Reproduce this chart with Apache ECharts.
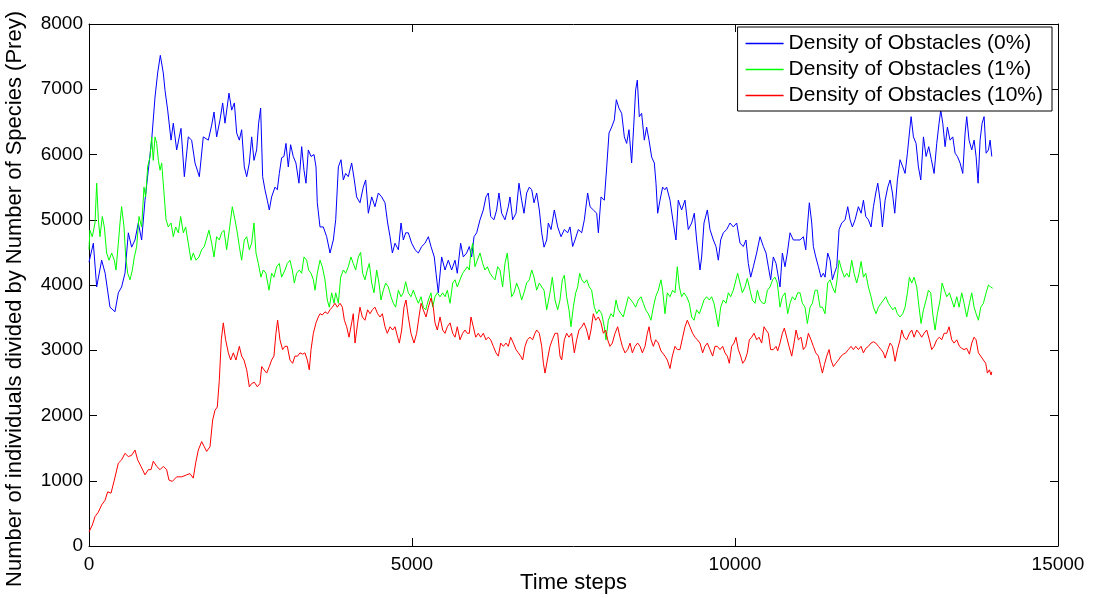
<!DOCTYPE html>
<html lang="en">
<head>
    <meta charset="UTF-8">
    <title>Prey density</title>
    <style>
        html, body { margin: 0; padding: 0; background: #fff; }
        #myChart { width: 1095px; height: 598px; }
    </style>
</head>
<body>
    <div id="myChart"></div>
</body>
<script src="https://cdn.jsdelivr.net/npm/echarts@6/dist/echarts.min.js"></script>
<script>
    let seriesNames = ['Density of Obstacles (0%)', 'Density of Obstacles (1%)', 'Density of Obstacles (10%)'];
    let xTicks = [0, 5000, 10000, 15000];
    let yTicks = [0, 1000, 2000, 3000, 4000, 5000, 6000, 7000, 8000];

    // density 0% (blue)
    let blueSteps = [0,67,119,196,250,325,402,454,505,557,609,660,712,763,815,867,918,970,1022,1063,1104,1150,1177,1218,1270,1305,1357,1424,1476,1537,1589,1641,1708,1769,1847,1899,1935,1976,2028,2069,2105,2167,2209,2250,2286,2327,2363,2404,2441,2482,2518,2554,2595,2626,2657,2688,2724,2760,2791,2827,2879,2915,2946,2982,3018,3049,3085,3121,3162,3203,3250,3292,3328,3359,3395,3437,3483,3514,3534,3576,3627,3679,3731,3782,3819,3860,3901,3937,3973,4014,4066,4107,4143,4195,4246,4283,4324,4376,4427,4479,4531,4582,4623,4660,4696,4737,4789,4830,4866,4902,4943,4995,5047,5098,5150,5201,5253,5294,5345,5372,5407,5459,5511,5562,5614,5666,5701,5753,5794,5846,5887,5923,5960,6001,6053,6104,6145,6181,6218,6269,6310,6346,6388,6439,6491,6517,6558,6610,6656,6697,6734,6775,6816,6853,6889,6930,6971,7008,7044,7085,7110,7152,7203,7255,7307,7358,7410,7446,7487,7523,7575,7627,7668,7719,7756,7807,7859,7885,7926,7977,8014,8050,8091,8132,8163,8204,8246,8287,8323,8359,8400,8431,8462,8488,8519,8555,8596,8632,8669,8710,8751,8777,8803,8839,8880,8916,8942,8994,9045,9086,9122,9174,9226,9277,9329,9370,9406,9458,9484,9520,9572,9613,9665,9706,9742,9778,9819,9871,9923,9974,10026,10078,10129,10170,10206,10243,10284,10335,10387,10439,10480,10516,10552,10593,10635,10661,10697,10733,10774,10810,10852,10903,10955,11007,11058,11095,11120,11151,11188,11213,11250,11291,11332,11368,11394,11435,11472,11508,11539,11575,11611,11652,11704,11745,11781,11817,11859,11910,11952,11988,12024,12065,12106,12143,12179,12210,12246,12282,12324,12365,12401,12437,12473,12514,12555,12597,12633,12669,12700,12726,12762,12803,12839,12876,12917,12958,12999,13040,13082,13123,13159,13185,13216,13252,13288,13329,13371,13407,13443,13484,13526,13562,13587,13623,13665,13701,13732,13763,13794,13825,13856,13887,13923,13949,13975];
    let blueVals = [4350,4640,3970,4380,4180,3660,3590,3880,3970,4180,4800,4580,4690,4950,4690,5300,5760,6220,6880,7250,7520,7250,6980,6680,6220,6480,6070,6400,5660,6270,6220,5870,5660,6270,6220,6450,6650,6270,6530,6790,6480,6940,6680,6790,6330,6220,6380,5810,5660,5870,6270,5910,6070,6480,6710,5660,5460,5300,5150,5350,5500,5460,5710,5950,5970,6170,5810,6150,5970,5870,5560,6120,5760,5560,6070,5970,6000,5810,5260,4890,4890,4740,4490,4690,5000,5810,5920,5610,5710,5660,5870,5610,5350,5260,5500,5610,5100,5350,5200,5410,5350,5260,4950,4740,4490,4640,4540,4950,4690,4800,4800,4640,4540,4490,4590,4640,4740,4590,4430,4180,3880,4430,4230,4380,4230,4380,4180,4640,4430,4490,4590,4430,4740,4800,5000,5150,5350,5410,5050,5000,5150,5410,5100,5000,5200,5350,5000,5100,5560,5300,5100,5410,5500,5460,5260,5410,5150,4800,4580,4690,4950,4850,5150,4890,4740,4850,4800,4890,4590,4690,4850,4800,5000,5410,5200,5150,5100,4800,5350,5300,5810,6330,6420,6530,6840,6710,6630,6270,6170,6380,5870,6420,6990,7140,6580,6630,6220,6420,6220,5960,5870,5560,5100,5300,5500,5460,5500,5300,4950,4690,5300,5150,5300,4850,4950,5100,4690,4230,4430,4950,5150,4850,4690,4590,4380,4690,4800,4850,4950,4890,4950,4640,4590,4690,4330,4120,4280,4490,4740,4590,4490,4280,4080,4430,4330,4180,3970,4490,4280,4490,4800,4690,4690,4690,4740,4540,4890,5260,4950,4590,4430,4280,4120,4180,4120,4490,4380,4080,4180,4280,4850,4950,5000,5200,5000,4890,5000,5200,5100,5300,5050,5000,4890,5200,5410,5560,5300,4890,5300,5500,5610,5410,5100,5610,5920,5810,5710,6020,6330,6580,6270,6170,5810,5610,6270,5970,6120,5920,5710,6170,6480,6680,6480,6120,6420,6220,6270,6020,5970,5870,5710,6330,6580,6220,6070,6220,5970,5560,6220,6480,6580,6020,6070,6220,5970];

    // density 1% (green)
    let greenSteps = [0,14,51,93,119,145,170,206,237,273,310,351,392,418,454,480,505,542,568,599,635,671,702,738,774,815,851,877,908,944,970,995,1022,1048,1074,1100,1125,1161,1192,1228,1270,1305,1342,1383,1419,1460,1496,1537,1579,1614,1656,1703,1744,1785,1810,1857,1899,1935,1976,2017,2053,2090,2131,2172,2218,2260,2296,2327,2363,2404,2441,2482,2518,2554,2585,2621,2662,2698,2739,2786,2827,2863,2905,2946,2982,3034,3070,3111,3147,3178,3214,3255,3292,3328,3369,3400,3437,3473,3499,3534,3576,3612,3653,3689,3720,3757,3793,3819,3860,3896,3937,3973,4014,4055,4091,4128,4169,4205,4236,4272,4308,4339,4376,4412,4453,4489,4520,4556,4593,4634,4675,4711,4747,4789,4830,4866,4902,4943,4984,5020,5057,5098,5140,5175,5212,5253,5294,5320,5356,5392,5434,5475,5511,5547,5589,5630,5666,5701,5743,5784,5820,5856,5887,5909,5939,5975,6011,6053,6094,6130,6166,6207,6249,6285,6326,6362,6403,6439,6475,6506,6542,6579,6620,6661,6697,6734,6775,6816,6853,6889,6930,6971,7008,7044,7085,7136,7172,7214,7255,7291,7327,7358,7394,7430,7461,7497,7534,7565,7596,7627,7668,7704,7745,7781,7822,7859,7895,7936,7977,8003,8039,8080,8117,8158,8194,8235,8271,8308,8349,8390,8426,8462,8503,8545,8581,8617,8658,8699,8736,8772,8813,8854,8880,8916,8952,8994,9035,9071,9107,9138,9174,9210,9252,9293,9329,9365,9406,9448,9484,9520,9561,9602,9638,9675,9706,9742,9778,9819,9861,9897,9933,9974,10015,10041,10078,10114,10155,10191,10233,10269,10310,10346,10387,10428,10464,10501,10542,10583,10619,10655,10697,10733,10774,10816,10852,10888,10929,10970,11007,11043,11084,11120,11162,11198,11239,11275,11316,11353,11394,11435,11472,11508,11549,11580,11611,11652,11693,11730,11766,11807,11843,11884,11920,11952,11988,12024,12065,12106,12143,12184,12220,12261,12298,12334,12375,12416,12442,12478,12514,12555,12597,12633,12669,12700,12736,12772,12813,12849,12880,12917,12958,12994,13030,13061,13097,13133,13175,13206,13242,13278,13319,13355,13391,13433,13469,13510,13546,13587,13629,13665,13701,13732,13768,13804,13845,13887,13923,13959,13990];
    let greenVals = [4540,4840,4740,4950,5560,5000,4740,5050,4890,4490,4380,4490,4380,4230,4640,4950,5200,4890,4430,4180,4080,4230,4430,4590,5050,4890,5500,5350,5810,5960,6270,5910,6270,6170,5910,5760,5870,5410,5000,4890,4950,4740,4890,4800,5050,4800,4890,4640,4380,4490,4380,4430,4540,4590,4590,4840,4640,4430,4740,4690,4800,4840,4540,4840,5200,5000,4800,4590,4380,4690,4740,4540,4640,4950,4490,4330,4120,4230,4180,3920,4180,4120,4280,4330,4120,4230,4330,4380,4230,4030,4180,4230,4180,4430,4380,4230,4180,4080,3920,4180,4380,4280,4080,3770,3660,3880,3720,3880,3720,4120,4230,4180,4280,4430,4330,4230,4430,4500,4180,4080,4230,4330,4030,3880,4230,4030,3770,3920,4030,3970,3820,3720,3660,3920,3820,3880,4050,3880,3820,3920,3820,3720,3820,3660,3620,3770,3880,3660,3820,3880,3820,3880,3820,3920,3720,4030,4080,3970,4080,4180,4230,4280,4230,4490,4640,4280,4380,4490,4330,4230,4280,4180,4120,4080,4280,4230,3970,4330,4490,4180,3820,3880,4030,3920,3770,3880,4030,4080,4230,4120,3920,4030,3970,3920,3620,3880,4120,3770,3620,3770,4080,4150,3820,3620,3360,3660,3880,3970,4180,4080,4030,4080,3970,3920,3660,3560,3620,3560,3360,3160,3460,3560,3510,3770,3620,3560,3510,3660,3820,3770,3720,3660,3770,3820,3720,3620,3560,3460,3660,3820,3920,4080,3920,3560,3880,3820,3920,3880,4280,3970,3820,3880,3820,3720,3510,3460,3620,3560,3660,3770,3820,3770,3820,3720,3560,3360,3660,3770,3720,3880,3820,3920,4080,4180,4030,3880,3970,4100,3920,3770,3720,3920,3770,3720,3720,3920,3970,4080,4120,4030,3660,3820,3880,3560,3720,3820,3770,3880,3880,3720,3660,3410,3660,3720,3920,3920,3660,3660,3560,4030,4080,3970,3880,4080,4380,4230,4120,4180,4120,4380,4180,4030,4180,4360,4120,4180,3970,3820,3660,3560,3660,3720,3770,3820,3720,3660,3620,3660,3560,3510,3560,3660,3880,4120,4030,4120,3970,3660,3410,3620,3770,3920,3880,3560,3310,3560,3770,4030,3920,3820,3880,3770,3660,3820,3660,3880,3720,3510,3720,3880,3660,3560,3460,3660,3720,3880,4000,3970,3950];

    // density 10% (red)
    let redSteps = [0,51,93,145,196,248,289,341,392,454,505,557,609,660,712,753,805,867,918,960,995,1048,1100,1150,1202,1238,1290,1357,1434,1512,1563,1614,1651,1692,1744,1785,1821,1873,1914,1950,1986,2017,2048,2079,2115,2157,2193,2234,2275,2327,2363,2399,2441,2482,2518,2559,2606,2647,2673,2709,2750,2791,2827,2863,2894,2920,2956,2997,3034,3070,3111,3152,3188,3229,3266,3307,3343,3379,3410,3437,3473,3514,3550,3576,3612,3653,3694,3731,3767,3808,3844,3886,3922,3953,3989,4025,4066,4091,4118,4159,4195,4231,4272,4313,4350,4386,4427,4468,4505,4541,4582,4618,4660,4701,4737,4778,4804,4840,4876,4907,4943,4984,5031,5072,5108,5140,5175,5217,5253,5294,5330,5356,5392,5434,5475,5511,5547,5589,5630,5666,5701,5743,5784,5820,5856,5887,5913,5949,5986,6027,6063,6104,6145,6181,6218,6259,6300,6336,6373,6414,6455,6491,6527,6569,6610,6646,6682,6713,6749,6785,6826,6867,6903,6930,6971,7008,7034,7059,7095,7136,7172,7214,7255,7291,7317,7358,7394,7430,7471,7513,7549,7585,7627,7663,7704,7740,7771,7807,7843,7885,7926,7962,7998,8029,8065,8101,8143,8184,8220,8256,8297,8339,8375,8411,8452,8493,8530,8566,8607,8643,8669,8700,8736,8772,8813,8854,8880,8916,8952,8994,9030,9071,9107,9148,9190,9226,9262,9303,9344,9381,9417,9458,9499,9535,9572,9613,9654,9690,9726,9768,9809,9845,9881,9912,9948,9985,10015,10052,10088,10119,10155,10191,10222,10258,10294,10336,10372,10413,10449,10480,10516,10552,10593,10635,10661,10697,10733,10764,10800,10836,10878,10914,10945,10981,11022,11058,11095,11136,11177,11213,11250,11291,11322,11353,11384,11420,11456,11487,11523,11560,11601,11642,11678,11714,11755,11796,11833,11869,11910,11951,11988,12024,12065,12106,12143,12179,12220,12261,12298,12324,12365,12401,12437,12478,12514,12555,12581,12617,12658,12700,12736,12772,12813,12854,12890,12927,12968,13009,13045,13082,13123,13164,13200,13237,13278,13314,13355,13391,13433,13474,13510,13546,13587,13629,13665,13701,13732,13768,13804,13845,13881,13907,13938,13964,13975];
    let redVals = [215,320,450,520,630,700,830,810,1010,1270,1320,1420,1370,1390,1470,1320,1220,1090,1170,1170,1300,1220,1170,1220,1170,1010,990,1060,1060,1090,1110,1040,1270,1470,1600,1520,1450,1520,1930,2080,2130,2540,3160,3420,3160,2960,2850,2960,2850,3060,2910,2850,2700,2440,2490,2510,2440,2490,2750,2700,2650,2750,2850,2910,3260,3460,3160,3010,3060,3060,2850,2800,2910,2910,2960,2940,2960,2850,2700,3010,3260,3420,3510,3560,3540,3590,3560,3620,3660,3720,3660,3720,3660,3460,3360,3200,3420,3560,3110,3420,3660,3510,3460,3620,3560,3620,3660,3560,3510,3560,3360,3260,3360,3310,3360,3200,3110,3310,3660,3770,3510,3260,3110,3260,3510,3720,3620,3510,3660,3800,3660,3420,3310,3510,3310,3260,3360,3420,3260,3200,3360,3160,3260,3310,3260,3260,3510,3360,3200,3260,3200,3260,3160,3200,3160,3060,2960,2910,3110,3060,3110,3060,3200,3110,3010,2960,2910,2850,3060,3160,3200,3160,3260,3310,3260,3060,2800,2650,2850,3060,3160,3260,3260,2910,2850,3160,3260,3200,3260,2960,3160,3310,3360,3420,3310,3160,3310,3560,3460,3510,3420,3260,3310,3160,3060,3110,3260,3360,3200,3060,2960,3010,3110,2960,3060,3110,3060,2960,3060,3260,3360,3160,3060,3160,3110,2990,2960,2910,2850,2720,2910,3060,3010,3010,3200,3360,3460,3360,3260,3200,3160,3110,2960,3060,3110,3010,2910,3060,3060,3010,3060,2960,2910,2800,3060,3110,3200,3010,2910,2800,2850,2960,3160,3200,3260,3160,3200,3110,3360,3310,3260,3010,3010,3060,2990,3110,3260,3340,3200,3060,2910,3110,3310,3160,3200,3010,3060,3260,3160,3060,2960,2910,2780,2650,2780,2910,3010,2850,2750,2800,2850,2910,2940,2960,3010,3060,3010,3060,3010,3060,2960,3030,3060,3110,3130,3110,3060,3010,2960,2880,3010,3110,3060,2830,3010,3160,3310,3200,3160,3260,3310,3200,3310,3260,3200,3260,3310,3160,3010,3060,3160,3200,3160,3260,3260,3360,3160,3110,3160,3060,3030,3010,3030,2940,3110,3200,3160,2960,2910,2850,2800,2650,2700,2620,2670];

    let seriesSteps = [blueSteps, greenSteps, redSteps];
    let seriesVals = [blueVals, greenVals, redVals];
    let colors = ['#0000ff', '#00ff00', '#ff0000'];
    let font = 'Arial, "Liberation Sans", sans-serif';

    function pairs(steps, vals) {
      return steps.map(function (s, i) { return [s, vals[i]]; });
    }

    // MATLAB style box: every side has its own axis with inward ticks
    function boxAxis(type, pos, ticks, withLabels) {
      let ax = {
        type: 'value',
        position: pos,
        min: ticks[0],
        max: ticks[ticks.length - 1],
        interval: ticks[1] - ticks[0],
        axisLine: { show: true, onZero: false, lineStyle: { color: '#000', width: 1 } },
        axisTick: { show: true, inside: true, length: 8, lineStyle: { color: '#000', width: 1 } },
        splitLine: { show: false },
        axisLabel: {
          show: withLabels,
          fontSize: 19,
          color: '#000',
          fontFamily: font,
          margin: type === 'x' ? 9 : 6,
          formatter: function (v) { return String(v); }
        }
      };
      return ax;
    }

    let xBottom = boxAxis('x', 'bottom', xTicks, true);
    xBottom.name = 'Time steps';
    xBottom.nameLocation = 'middle';
    xBottom.nameGap = 26;
    xBottom.nameMoveOverlap = false;
    xBottom.nameTextStyle = { fontSize: 22, color: '#000', fontFamily: font };

    let yLeft = boxAxis('y', 'left', yTicks, true);
    yLeft.name = 'Number of individuals divided by Number of Species (Prey)';
    yLeft.nameLocation = 'middle';
    yLeft.nameGap = 63;
    yLeft.nameMoveOverlap = false;
    // right padding pushes the rotated title a little down, as in the original
    yLeft.nameTextStyle = { fontSize: 22, color: '#000', fontFamily: font, padding: [0, 28, 0, 0] };

    let chart = echarts.init(document.getElementById('myChart'));
    let option = {
      animation: false,
      backgroundColor: '#fff',
      grid: { left: 89, right: 37, top: 24, bottom: 52, containLabel: false, outerBoundsMode: 'none' },
      legend: {
        data: seriesNames,
        orient: 'vertical',
        right: 43,
        top: 27,
        backgroundColor: '#fff',
        borderColor: '#000',
        borderWidth: 1,
        borderRadius: 0,
        padding: [6, 9, 5, 8],
        itemGap: 5,
        itemWidth: 38,
        itemHeight: 1.5,
        icon: 'rect',
        textStyle: { fontSize: 21, color: '#000', fontFamily: font }
      },
      xAxis: [xBottom, boxAxis('x', 'top', xTicks, false)],
      yAxis: [yLeft, boxAxis('y', 'right', yTicks, false)],
      series: seriesNames.map(function (name, k) {
        return {
          name: name,
          type: 'line',
          xAxisIndex: 0,
          yAxisIndex: 0,
          data: pairs(seriesSteps[k], seriesVals[k]),
          showSymbol: false,
          symbol: 'none',
          color: colors[k],
          lineStyle: { color: colors[k], width: 1 },
          z: 2 + k
        };
      })
    };
    chart.setOption(option);
</script>
</html>
